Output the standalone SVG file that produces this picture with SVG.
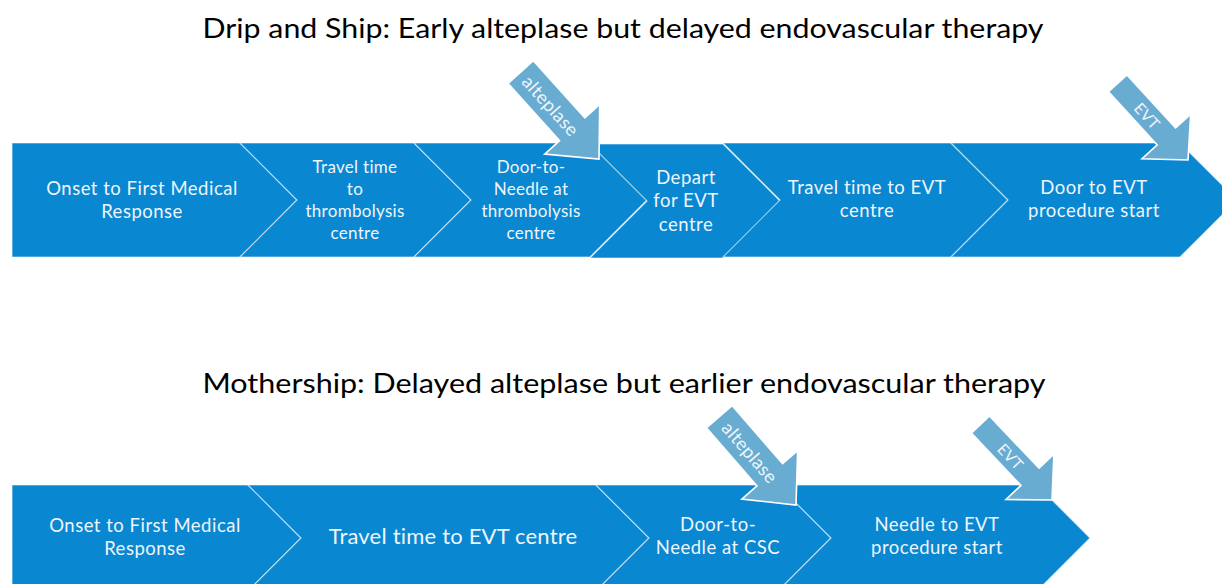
<svg xmlns="http://www.w3.org/2000/svg" width="1222" height="584" viewBox="0 0 1222 584">
<style>
.seg{fill:#0A87D1;stroke:#FFFFFF;stroke-opacity:0.55;stroke-width:1.2;}
.lbl{font-family:Lato,"Liberation Sans",sans-serif;fill:#EEF5FB;text-anchor:middle;font-size:18.5px;letter-spacing:0.5px;}
.sm{font-size:17px;letter-spacing:0.3px;}
.big{font-size:22px;letter-spacing:0.2px;}
.title{font-family:Lato,"Liberation Sans",sans-serif;fill:#000;text-anchor:middle;font-size:27px;}
.arr{fill:#69ACD2;stroke:#FFFFFF;stroke-width:1.6;stroke-linejoin:miter;}
.atx{font-family:Lato,"Liberation Sans",sans-serif;fill:#EEF5FB;text-anchor:middle;dominant-baseline:central;letter-spacing:0.3px;}
</style>
<defs>
<path id="bigArrow" d="M0,0 L-40,-37 L-40,-17 L-117,-17 L-117,17 L-40,17 L-40,37 Z"/>
<path id="smallArrow" d="M0,0 L-32,-33 L-32,-12.5 L-104,-12.5 L-104,12.5 L-32,12.5 L-32,33 Z"/>
</defs>
<rect width="1222" height="584" fill="#FFFFFF"/>

<text class="title" x="623" y="38" textLength="841" lengthAdjust="spacingAndGlyphs">Drip and Ship: Early alteplase but delayed endovascular therapy</text>
<text class="title" x="624" y="393" textLength="843" lengthAdjust="spacingAndGlyphs">Mothership: Delayed alteplase but earlier endovascular therapy</text>

<g id="top-row">
<g id="t1">
<polygon class="seg" points="12,143 240,143 297,200 240,257 12,257"/>
<text class="lbl" x="142" y="195">Onset to First Medical</text>
<text class="lbl" x="142" y="218">Response</text>
</g>
<g id="t2">
<polygon class="seg" points="240,143 414,143 471,200 414,257 240,257 297,200"/>
<text class="lbl sm" x="355" y="173">Travel time</text>
<text class="lbl sm" x="355" y="195">to</text>
<text class="lbl sm" x="355" y="217">thrombolysis</text>
<text class="lbl sm" x="355" y="239">centre</text>
</g>
<g id="t3">
<polygon class="seg" points="414,143 590,143 647,200 590,257 414,257 471,200"/>
<text class="lbl sm" x="531" y="173">Door-to-</text>
<text class="lbl sm" x="531" y="195">Needle at</text>
<text class="lbl sm" x="531" y="217">thrombolysis</text>
<text class="lbl sm" x="531" y="239">centre</text>
</g>
<g id="t4">
<polygon class="seg" points="590,144 723,144 780,201 723,258 590,258 647,201"/>
<text class="lbl" x="686" y="184">Depart</text>
<text class="lbl" x="686" y="207">for EVT</text>
<text class="lbl" x="686" y="231">centre</text>
</g>
<g id="t5">
<polygon class="seg" points="723,143 951,143 1008,200 951,257 723,257 780,200"/>
<text class="lbl" x="867" y="194">Travel time to EVT</text>
<text class="lbl" x="867" y="217">centre</text>
</g>
<g id="t6">
<polygon class="seg" points="951,143 1180,143 1237,200 1180,257 951,257 1008,200"/>
<text class="lbl" x="1094" y="194">Door to EVT</text>
<text class="lbl" x="1094" y="217">procedure start</text>
</g>
</g>

<g id="bottom-row">
<g id="b1">
<polygon class="seg" points="12,485 248,485 301,538 248,591 12,591"/>
<text class="lbl" x="145" y="532">Onset to First Medical</text>
<text class="lbl" x="145" y="555">Response</text>
</g>
<g id="b2">
<polygon class="seg" points="248,485 596,485 649,538 596,591 248,591 301,538"/>
<text class="lbl big" x="453" y="544">Travel time to EVT centre</text>
</g>
<g id="b3">
<polygon class="seg" points="596,485 778,485 831,538 778,591 596,591 649,538"/>
<text class="lbl" x="718" y="531">Door-to-</text>
<text class="lbl" x="718" y="554">Needle at CSC</text>
</g>
<g id="b4">
<polygon class="seg" points="778,485 1037,485 1090,538 1037,591 778,591 831,538"/>
<text class="lbl" x="937" y="531">Needle to EVT</text>
<text class="lbl" x="937" y="554">procedure start</text>
</g>
</g>

<g id="connectors">
<g id="arrow-alteplase-top" transform="translate(599,159) rotate(48)">
<use href="#bigArrow" class="arr"/>
<text class="atx" x="-72" y="0" font-size="18.5">alteplase</text>
</g>
<g id="arrow-evt-top" transform="translate(1188,160) rotate(47.5)">
<use href="#smallArrow" class="arr"/>
<text class="atx" x="-60" y="0" font-size="15.5">EVT</text>
</g>
<g id="arrow-alteplase-bottom" transform="translate(796,505) rotate(49)">
<use href="#bigArrow" class="arr"/>
<text class="atx" x="-70" y="0" font-size="18.5">alteplase</text>
</g>
<g id="arrow-evt-bottom" transform="translate(1052,500) rotate(46.5)">
<use href="#smallArrow" class="arr"/>
<text class="atx" x="-60" y="0" font-size="15.5">EVT</text>
</g>
</g>
</svg>
